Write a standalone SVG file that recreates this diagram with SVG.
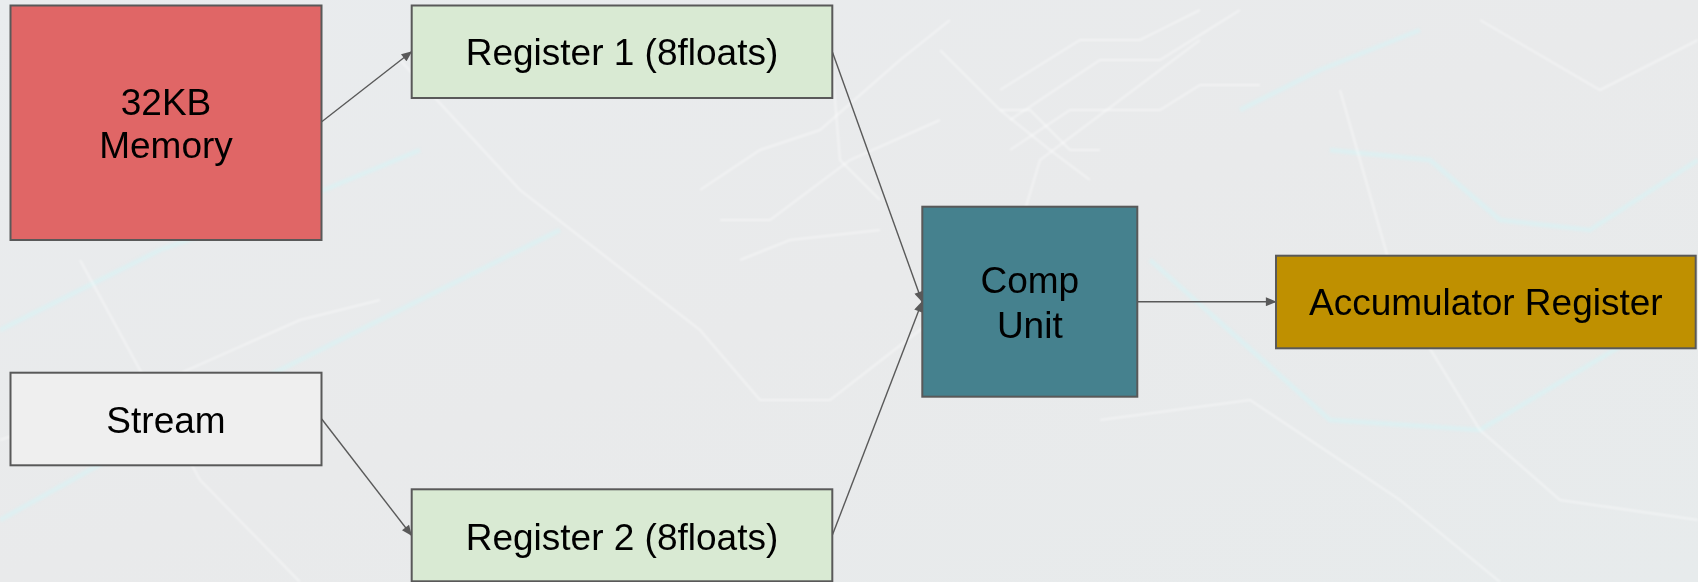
<svg xmlns="http://www.w3.org/2000/svg" width="1698" height="582" viewBox="0 0 1698 582">
  <style>
    .box { stroke: #595959; stroke-width: 2; }
    .lbl { font-family: "Liberation Sans", Arial, sans-serif; font-size: 37px; fill: #000; text-anchor: middle; }
    .edge { stroke: #595959; stroke-width: 1.4; fill: none; marker-end: url(#arrow); }
    .trace { fill: none; stroke: #ffffff; stroke-width: 2; opacity: 0.45; }
    .trace-c { fill: none; stroke: #d6f6f8; stroke-width: 5; opacity: 0.5; }
  </style>
  <defs>
    <marker id="arrow" viewBox="0 0 12 10" refX="11" refY="5" markerWidth="12" markerHeight="9" markerUnits="userSpaceOnUse" orient="auto">
      <path d="M0,0 L12,5 L0,10 z" fill="#595959"/>
    </marker>
    <linearGradient id="bg" x1="0" y1="0" x2="1" y2="1">
      <stop offset="0" stop-color="#e9ecee"/>
      <stop offset="0.5" stop-color="#e9eaeb"/>
      <stop offset="1" stop-color="#e7ebec"/>
    </linearGradient>
    <filter id="soft" x="-5%" y="-5%" width="110%" height="110%">
      <feGaussianBlur stdDeviation="1.2"/>
    </filter>
  </defs>

  <!-- faint circuit-board backdrop -->
  <rect x="0" y="0" width="1698" height="582" fill="url(#bg)"/>
  <g id="backdrop" filter="url(#soft)">
    <path class="trace" d="M400,60 L520,190 L700,330 L760,400 L830,400 L1010,260 L1040,160 L1200,40"/>
    <path class="trace-c" d="M0,330 L160,250 L300,200 L420,150"/>
    <path class="trace-c" d="M0,520 L180,420 L420,300 L560,230"/>
    <path class="trace-c" d="M1240,110 L1320,70 L1420,30"/>
    <path class="trace-c" d="M1330,150 L1430,160 L1500,220 L1590,230 L1698,160"/>
    <path class="trace-c" d="M1150,260 L1330,420 L1480,430 L1698,300"/>
    <path class="trace" d="M1000,90 L1080,40 L1140,40 L1200,10"/>
    <path class="trace" d="M1010,120 L1100,60 L1160,60 L1240,10"/>
    <path class="trace" d="M1010,150 L1070,110 L1160,110 L1200,85 L1260,85"/>
    <path class="trace" d="M1000,110 L1030,110 L1070,150 L1100,150"/>
    <path class="trace" d="M940,50 L1000,110 L1050,150 L1090,180"/>
    <path class="trace" d="M700,190 L760,150 L820,130 L900,60 L950,20"/>
    <path class="trace" d="M720,220 L770,220 L850,160 L940,120"/>
    <path class="trace" d="M740,260 L790,240 L880,230"/>
    <path class="trace" d="M830,40 L840,160 L880,200"/>
    <path class="trace" d="M1340,90 L1400,300 L1480,430 L1560,500 L1698,520"/>
    <path class="trace" d="M0,440 L120,400 L300,320 L380,300"/>
    <path class="trace" d="M80,260 L200,480 L300,582"/>
    <path class="trace" d="M1100,420 L1250,400 L1400,500 L1500,582"/>
    <path class="trace" d="M1480,20 L1600,90 L1698,40"/>
  </g>

  <g id="connectors">
    <line class="edge" x1="321.7" y1="121.7" x2="411.5" y2="51.7"/>
    <line class="edge" x1="832.3" y1="51.7" x2="922" y2="301.5"/>
    <line class="edge" x1="321.7" y1="419" x2="411.5" y2="535.3"/>
    <line class="edge" x1="832.3" y1="535.3" x2="922" y2="301.9"/>
    <line class="edge" x1="1137.3" y1="301.7" x2="1275.8" y2="301.7"/>
  </g>

  <g id="memory">
    <rect class="box" x="10.5" y="5.5" width="311" height="234.5" fill="#e06666"/>
    <text class="lbl" x="166" y="115">32KB</text>
    <text class="lbl" x="166" y="158">Memory</text>
  </g>

  <g id="register1">
    <rect class="box" x="411.7" y="5.5" width="420.6" height="92.5" fill="#d9ead3"/>
    <text class="lbl" x="622" y="65">Register 1 (8floats)</text>
  </g>

  <g id="stream">
    <rect class="box" x="10.5" y="372.7" width="311" height="92.6" fill="#efefef"/>
    <text class="lbl" x="166" y="432.5">Stream</text>
  </g>

  <g id="register2">
    <rect class="box" x="411.7" y="489.3" width="420.6" height="92" fill="#d9ead3"/>
    <text class="lbl" x="622" y="549.5">Register 2 (8floats)</text>
  </g>

  <g id="comp-unit">
    <rect class="box" x="922.3" y="206.7" width="215" height="190" fill="#45818e"/>
    <text class="lbl" x="1029.8" y="293.3">Comp</text>
    <text class="lbl" x="1029.8" y="337.5">Unit</text>
  </g>

  <g id="accumulator">
    <rect class="box" x="1276" y="255.7" width="419.7" height="92.6" fill="#bf9000"/>
    <text class="lbl" x="1485.8" y="315">Accumulator Register</text>
  </g>
</svg>
